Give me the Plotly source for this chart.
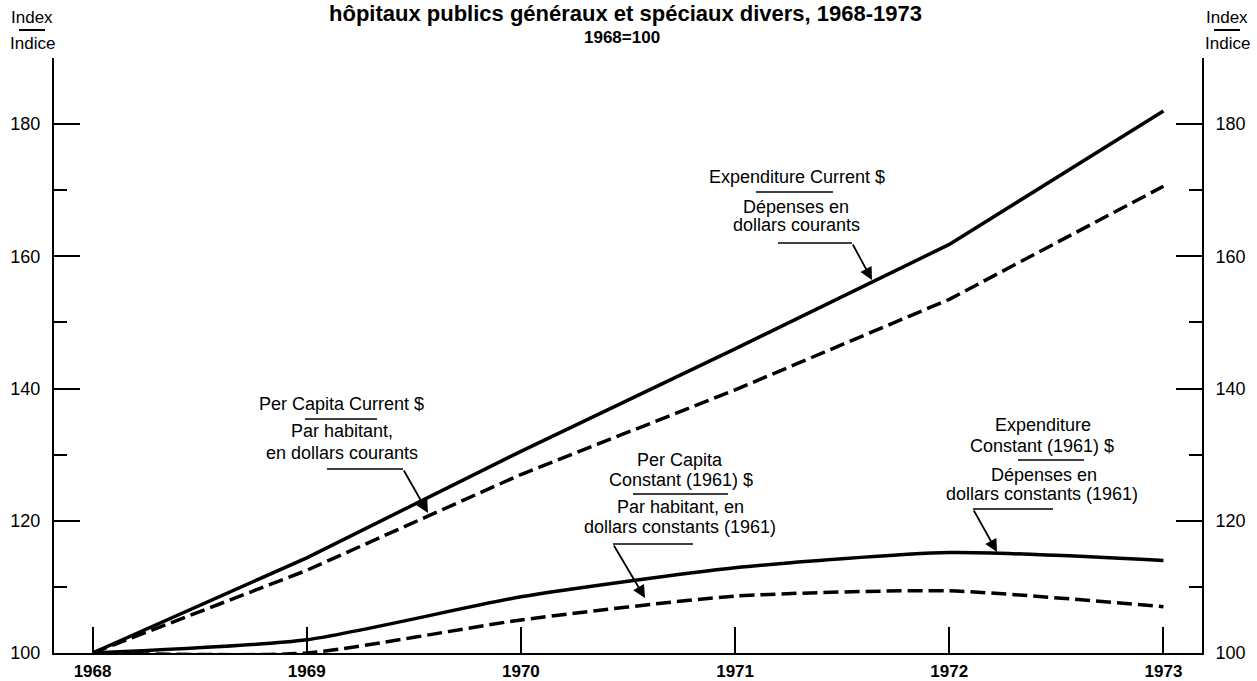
import plotly.graph_objects as go

# index values, 1968 = 100
years = [1968, 1969, 1970, 1971, 1972, 1973]
expenditure_current = [100, 114.4, 130.5, 146.0, 161.8, 182.0]
per_capita_current = [100, 112.5, 127.0, 139.8, 153.5, 170.6]
expenditure_constant = [100, 102.0, 108.5, 112.9, 115.2, 114.0]
per_capita_constant = [100, 100.0, 105.0, 108.6, 109.4, 107.0]

y_ticks = [100, 120, 140, 160, 180]
y_minor = [110, 130, 150, 170, 190]

FONT = "Liberation Sans"

# plot box in page pixels
L, R, T, B = 54, 1202, 58, 653


def px(p):
    return (p - L) / (R - L)


def py(p):
    return (B - p) / (B - T)


fig = go.Figure()

series = [
    (expenditure_current, "solid", "linear", "Expenditure Current $"),
    (per_capita_current, "15px,6px", "linear", "Per Capita Current $"),
    (expenditure_constant, "solid", "spline", "Expenditure Constant (1961) $"),
    (per_capita_constant, "15px,6px", "spline", "Per Capita Constant (1961) $"),
]
for vals, dash, shape, name in series:
    fig.add_trace(go.Scatter(
        x=years, y=vals, mode="lines", name=name,
        line=dict(color="black", width=3.5, dash=dash, shape=shape, smoothing=0.6),
        hoverinfo="skip"))

# dummy trace so the right axis is drawn
fig.add_trace(go.Scatter(x=years, y=expenditure_current, yaxis="y2",
                         mode="lines", line=dict(width=0), showlegend=False,
                         hoverinfo="skip"))

axis_common = dict(
    range=[100, 190], tickvals=y_ticks, ticks="inside", ticklen=26, tickwidth=2,
    tickcolor="black", showline=True, linecolor="black", linewidth=2,
    showgrid=False, zeroline=False, ticklabelstandoff=8, automargin=False,
    tickfont=dict(family=FONT, size=18, color="black"),
    minor=dict(tickvals=y_minor, ticks="inside", ticklen=13, tickwidth=2,
               tickcolor="black", showgrid=False),
)

fig.update_layout(
    width=1257, height=681,
    margin=dict(l=L, r=1257 - R, t=T, b=681 - B),
    plot_bgcolor="white", paper_bgcolor="white",
    showlegend=False,
    font=dict(family=FONT, color="black"),
    xaxis=dict(range=[1967.82, 1973.18], tickvals=years, ticks="inside",
               ticklen=26, tickwidth=2, tickcolor="black", showline=True,
               linecolor="black", linewidth=2, showgrid=False, zeroline=False,
               automargin=False, ticklabelstandoff=2,
               tickfont=dict(family=FONT, size=17, color="black", weight="bold")),
    yaxis=dict(side="left", **axis_common),
    yaxis2=dict(side="right", overlaying="y", **axis_common),
)

ann = []
shapes = []


def text(s, x, y, size=18, bold=False):
    ann.append(dict(text=s, x=px(x), y=py(y), xref="paper", yref="paper",
                    showarrow=False, xanchor="center", yanchor="middle",
                    font=dict(family=FONT, size=size, color="black",
                              weight="bold" if bold else "normal")))


def hline(x0, x1, y, w=1.5):
    shapes.append(dict(type="line", xref="paper", yref="paper",
                       x0=px(x0), x1=px(x1), y0=py(y), y1=py(y),
                       line=dict(color="black", width=w)))


def arrow(x0, y0, x1, y1):
    ann.append(dict(text="", x=px(x1), y=py(y1), xref="paper", yref="paper",
                    ax=x0 - x1, ay=y0 - y1, showarrow=True, arrowhead=2,
                    arrowsize=1.4, arrowwidth=1.8, arrowcolor="black"))


# title
text("hôpitaux publics généraux et spéciaux divers, 1968-1973", 625, 13, size=22, bold=True)
text("1968=100", 622, 38, size=17, bold=True)

# axis headings
for cx in (32, 1227):
    text("Index", cx, 17, size=17)
    hline(cx - 13, cx + 13, 30, w=2)
    text("Indice", cx, 43, size=17)

# Expenditure Current $
text("Expenditure Current $", 797, 177)
hline(756, 833, 192)
text("Dépenses en", 796, 207)
text("dollars courants", 796, 225)
hline(778, 852, 243)
arrow(852, 243, 872, 280)

# Per Capita Current $
text("Per Capita Current $", 341, 404)
hline(305, 377, 419)
text("Par habitant,", 342, 431)
text("en dollars courants", 342, 453)
hline(327, 403, 469)
arrow(403, 469, 428, 513)

# Per Capita Constant (1961) $
text("Per Capita", 680, 460)
text("Constant (1961) $", 681, 480)
hline(633, 728, 494)
text("Par habitant, en", 680, 507)
text("dollars constants (1961)", 680, 527)
hline(613, 693, 544)
arrow(613, 544, 645, 598)

# Expenditure Constant (1961) $
text("Expenditure", 1043, 425)
text("Constant (1961) $", 1042, 446)
hline(1018, 1084, 460)
text("Dépenses en", 1044, 475)
text("dollars constants (1961)", 1042, 494)
hline(973, 1053, 509)
arrow(973, 509, 997, 552)

fig.update_layout(annotations=ann, shapes=shapes)

# page has a default 8px body margin; drop it so the figure sits at (0, 0)
fig.write_html("out.html", config={"displayModeBar": False},
               post_script="document.body.style.margin='0';")
